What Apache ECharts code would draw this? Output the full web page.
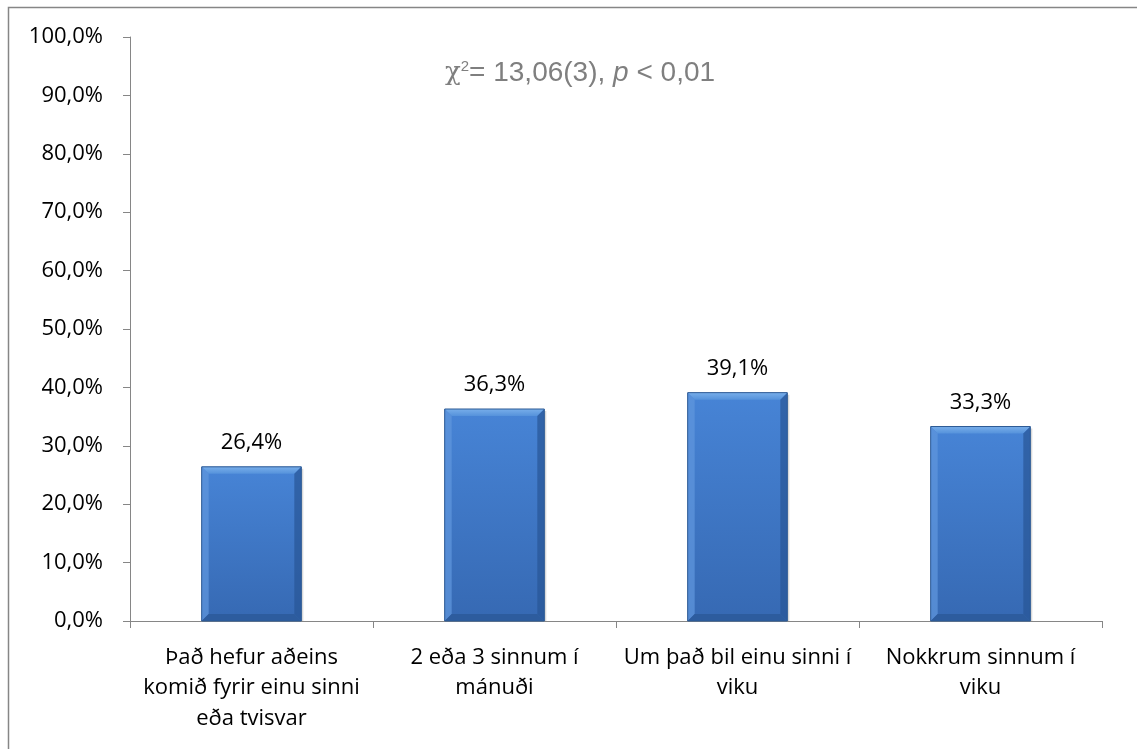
<!DOCTYPE html>
<html>
<head>
<meta charset="utf-8">
<script src="https://cdn.jsdelivr.net/npm/echarts@6/dist/echarts.min.js"></script>
<style>
  html, body { margin: 0; padding: 0; background: #fff; }
  #chart { width: 1137px; height: 749px; }
</style>
</head>
<body>
<div id="chart"></div>
<script>
// Frequency categories and share of respondents (%)
const categories = [
  'Það hefur aðeins\nkomið fyrir einu sinni\neða tvisvar',
  '2 eða 3 sinnum í\nmánuði',
  'Um það bil einu sinni í\nviku',
  'Nokkrum sinnum í\nviku'
];
const shares = [26.4, 36.3, 39.1, 33.3];
const yTicks = { min: 0, max: 100, interval: 10 };

const fmt = v => v.toFixed(1).replace('.', ',') + '%';
const labelFont = '"Open Sans", "Noto Sans", sans-serif';
const labelSize = 22;

const chart = echarts.init(document.getElementById('chart'), null, { renderer: 'canvas' });

// Bevelled bar: body with a lighter top/left rim and darker right/bottom rim
function renderBar(params, api) {
  const idx = api.value(0);
  const v = api.value(1);
  const top = api.coord([idx, v]);
  const base = api.coord([idx, 0]);
  const bw = api.size([1, 0])[0] * 0.41;
  const x0 = top[0] - bw / 2, x1 = top[0] + bw / 2;
  const y0 = top[1], y1 = base[1];
  const b = 7;
  return {
    type: 'group',
    children: [
      { type: 'rect', shape: { x: x0 + 2, y: y0 + 2, width: bw, height: y1 - y0 - 2 },
        style: { fill: 'rgba(0,0,0,0.15)' } },
      { type: 'rect', shape: { x: x0, y: y0, width: bw, height: y1 - y0 },
        style: { fill: new echarts.graphic.LinearGradient(0, 0, 0, 1, [
          { offset: 0, color: '#4784d6' }, { offset: 1, color: '#3669b3' }]) } },
      { type: 'polygon', shape: { points: [[x0, y0], [x1, y0], [x1 - b, y0 + b], [x0 + b, y0 + b]] },
        style: { fill: new echarts.graphic.LinearGradient(0, 0, 0, 1, [
          { offset: 0, color: '#78aeea' }, { offset: 1, color: '#5592db' }]) } },
      { type: 'polygon', shape: { points: [[x0, y0], [x0 + b, y0 + b], [x0 + b, y1 - b], [x0, y1]] },
        style: { fill: 'rgba(95,150,220,0.75)' } },
      { type: 'polygon', shape: { points: [[x1, y0], [x1, y1], [x1 - b, y1 - b], [x1 - b, y0 + b]] },
        style: { fill: 'rgba(40,85,150,0.7)' } },
      { type: 'polygon', shape: { points: [[x0, y1], [x1, y1], [x1 - b, y1 - b], [x0 + b, y1 - b]] },
        style: { fill: '#2d5c9e' } },
      { type: 'rect', shape: { x: x0, y: y0, width: bw, height: y1 - y0 },
        style: { fill: 'none', stroke: '#2d5a94', lineWidth: 1 } },
      { type: 'text', x: top[0], y: y0 - 13,
        style: { text: fmt(v), fill: '#000', font: labelSize + 'px ' + labelFont,
                 align: 'center', verticalAlign: 'bottom' } }
    ]
  };
}

chart.setOption({
  animation: false,
  grid: { left: 130, right: 35, top: 37, bottom: 128, containLabel: false },
  xAxis: {
    type: 'category',
    data: categories,
    boundaryGap: true,
    axisLine: { lineStyle: { color: '#868686', width: 1 } },
    axisTick: { show: true, alignWithLabel: false, length: 7, lineStyle: { color: '#868686' } },
    axisLabel: { color: '#000', fontFamily: labelFont, fontSize: labelSize, lineHeight: 30.5, margin: 21, interval: 0 }
  },
  yAxis: {
    type: 'value',
    min: yTicks.min, max: yTicks.max, interval: yTicks.interval,
    axisLine: { show: true, lineStyle: { color: '#868686', width: 1 } },
    axisTick: { show: true, length: 7, lineStyle: { color: '#868686' } },
    splitLine: { show: false },
    axisLabel: { color: '#000', fontFamily: labelFont, fontSize: labelSize, margin: 27,
                 formatter: v => fmt(v) }
  },
  series: [{
    type: 'custom',
    renderItem: renderBar,
    data: shares.map((v, i) => [i, v]),
    encode: { x: 0, y: 1 },
    clip: false
  }],
  graphic: [
    { type: 'rect', silent: true, z: -1,
      shape: { x: 8.5, y: 7.5, width: 1200, height: 800 },
      style: { fill: 'none', stroke: '#868686', lineWidth: 1.5 } },
    { type: 'text', left: 445, top: 59,
      style: {
        text: '{chi|χ}{sup|2}{t|= 13,06(3), }{p|p}{t| < 0,01}',
        rich: {
          chi: { fontFamily: '"DejaVu Serif", serif', fontSize: 26, fill: '#7f7f7f' },
          sup: { fontFamily: '"Liberation Sans", Arial, sans-serif', fontSize: 15, fill: '#7f7f7f', verticalAlign: 'top', padding: [0, 0, 13, 0] },
          t: { fontFamily: '"Liberation Sans", Arial, sans-serif', fontSize: 28, fill: '#7f7f7f' },
          p: { fontFamily: '"Liberation Sans", Arial, sans-serif', fontStyle: 'italic', fontSize: 28, fill: '#7f7f7f' }
        }
      } }
  ]
});
</script>
</body>
</html>
